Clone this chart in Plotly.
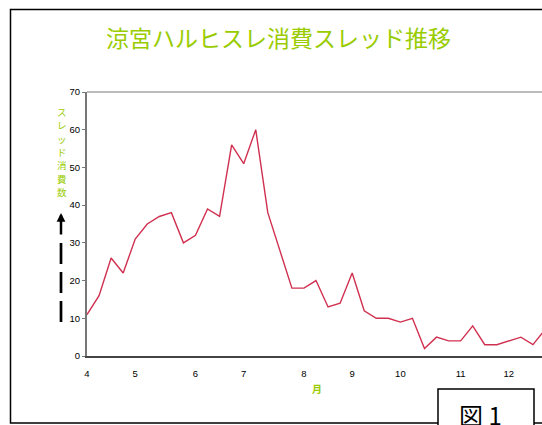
import plotly.graph_objects as go

# weekly thread consumption (index = week, starting first week of April)
week_idx = list(range(39))
threads = [11, 16, 26, 22, 31, 35, 37, 38, 30, 32, 39, 37, 56, 51, 60, 38, 28,
           18, 18, 20, 13, 14, 22, 12, 10, 10, 9, 10, 2, 5, 4, 4, 8, 3, 3, 4, 5, 3, 7]
month_pos = [0, 4, 9, 13, 18, 22, 26, 31, 35]
month_labels = ["4", "5", "6", "7", "8", "9", "10", "11", "12"]
y_ticks = [0, 10, 20, 30, 40, 50, 60, 70]

title_text = "涼宮ハルヒスレ消費スレッド推移"
y_title = "スレッド消費数"
x_title = "月"
fig_label = "図 1"

W, H = 542, 425
L, R, T, B = 87, 0, 92, 69
PW, PH = W - L - R, H - T - B

def px(x):
    return (x - L) / PW

def py(y):
    return (H - B - y) / PH

LIME = "#99cc00"

fig = go.Figure()
fig.add_trace(go.Scatter(
    x=week_idx, y=threads, mode="lines",
    line=dict(color="#d0304f", width=1.4),
    hoverinfo="skip", showlegend=False,
))

fig.update_layout(
    width=W, height=H,
    margin=dict(l=L, r=R, t=T, b=B),
    paper_bgcolor="white", plot_bgcolor="white",
    showlegend=False,
    xaxis=dict(
        range=[0, 37.75], tickmode="array", tickvals=month_pos, ticktext=month_labels,
        showgrid=False, zeroline=False, showline=True, linecolor="#444", linewidth=2,
        ticks="", ticklabelstandoff=8,
        tickfont=dict(family="Liberation Sans, Arial", size=9.5, color="#000"),
    ),
    yaxis=dict(
        range=[0, 70], tickmode="array", tickvals=y_ticks,
        showgrid=False, zeroline=False, showline=True, linecolor="#777", linewidth=2,
        ticks="outside", ticklen=3, tickcolor="#777", tickwidth=1,
        tickfont=dict(family="Liberation Sans, Arial", size=9.5, color="#000"),
    ),
)

shapes = []
# outer frame
shapes.append(dict(type="rect", xref="paper", yref="paper",
                   x0=px(10.5), x1=px(560), y0=py(423), y1=py(9.5),
                   line=dict(color="black", width=1.5), fillcolor="rgba(0,0,0,0)", layer="below"))
# top border of plot area
shapes.append(dict(type="line", xref="paper", yref="paper",
                   x0=0, x1=1, y0=1, y1=1, line=dict(color="#bbbbbb", width=2)))
# figure label box
shapes.append(dict(type="rect", xref="paper", yref="paper",
                   x0=px(438), x1=px(534), y0=py(440), y1=py(389),
                   line=dict(color="black", width=1.5), fillcolor="white"))
# dashed arrow shaft
shapes.append(dict(type="line", xref="paper", yref="paper",
                   x0=px(61), x1=px(61), y0=py(243), y1=py(323),
                   line=dict(color="black", width=2.7, dash="21px,8px")))
fig.update_layout(shapes=shapes)

ann = []
ann.append(dict(text=title_text, xref="paper", yref="paper", x=px(278), y=py(37),
                showarrow=False, xanchor="center", yanchor="middle",
                font=dict(family="Noto Sans CJK JP", size=23, color=LIME)))
# vertical y-axis title, one character per line
chars = list(y_title)
for i, ch in enumerate(chars):
    ann.append(dict(text=ch, xref="paper", yref="paper",
                    x=px(62), y=py(112 + i * 13.3), showarrow=False,
                    xanchor="center", yanchor="middle", borderpad=0,
                    font=dict(family="Noto Sans CJK JP", size=9.5, color=LIME)))
ann.append(dict(text="", xref="paper", yref="paper", x=px(61), y=py(213),
                ax=0, ay=23, showarrow=True, arrowhead=2, arrowsize=0.7,
                arrowwidth=2.5, arrowcolor="black"))
ann.append(dict(text="<b>" + x_title + "</b>", xref="paper", yref="paper", x=px(317), y=py(388),
                showarrow=False, xanchor="center", yanchor="middle",
                font=dict(family="Noto Sans CJK JP", size=10, color=LIME)))
ann.append(dict(text=fig_label, xref="paper", yref="paper", x=px(480), y=py(414),
                showarrow=False, xanchor="center", yanchor="middle",
                font=dict(family="Noto Sans CJK JP", size=24, color="black")))
fig.update_layout(annotations=ann)

fig.write_html("out.html")
